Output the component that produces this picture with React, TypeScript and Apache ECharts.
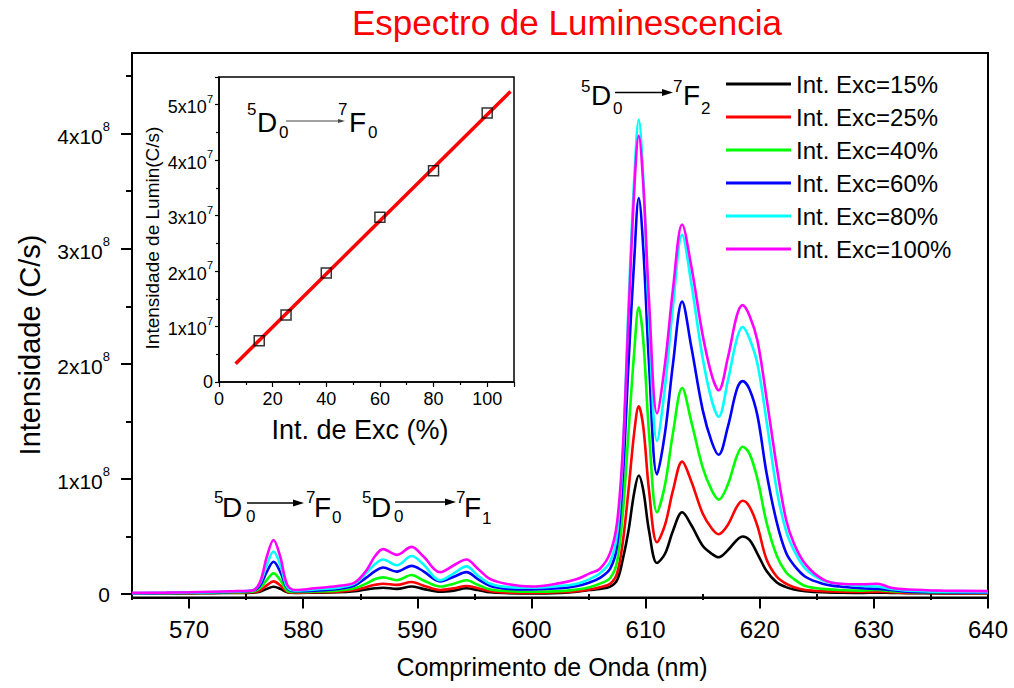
import React, { useEffect, useRef } from "react";
import * as echarts from "echarts";

// Wavelength grid (nm)
const wavelength = [
  565, 568, 570, 572, 574,
  575.5, 576.2, 576.8, 577.4, 578.0,
  578.6, 579.3, 581, 583, 584.5,
  585.5, 586.3, 587.0, 588.2, 589.5,
  590.5, 592.0, 593.2, 594.3, 595.3,
  596.4, 598, 600, 602.5, 604,
  605.1, 606.0, 606.9, 607.5, 608.0,
  608.5, 609.0, 609.4, 609.8, 610.3,
  611.0, 611.7, 612.4, 613.2, 614.0,
  615.0, 615.8, 616.4, 617.2, 618.0,
  618.5, 619.1, 619.8, 620.6, 621.5,
  622.3, 623.0, 624.0, 625.5, 627.0,
  629, 630.3, 631.5, 633, 636,
  640,
];

// Intensities in units of 1e8 C/s
const exc15 = [
  0.005, 0.005, 0.006, 0.008, 0.01,
  0.012, 0.02, 0.045, 0.064, 0.045,
  0.015, 0.01, 0.012, 0.015, 0.025,
  0.04, 0.05, 0.055, 0.045, 0.065,
  0.045, 0.02, 0.03, 0.05, 0.035,
  0.015, 0.008, 0.005, 0.01, 0.02,
  0.035, 0.045, 0.065, 0.12, 0.3,
  0.55, 0.88, 1.03, 0.9, 0.55,
  0.27, 0.35, 0.55, 0.71, 0.6,
  0.42, 0.35, 0.32, 0.38, 0.47,
  0.5, 0.47, 0.35, 0.2, 0.1,
  0.06, 0.04, 0.025, 0.015, 0.012,
  0.01, 0.012, 0.01, 0.008, 0.006,
  0.005,
];
const exc25 = [
  0.005, 0.006, 0.008, 0.01, 0.012,
  0.015, 0.03, 0.075, 0.11, 0.075,
  0.02, 0.012, 0.015, 0.02, 0.035,
  0.06, 0.08, 0.09, 0.08, 0.105,
  0.075, 0.035, 0.05, 0.07, 0.05,
  0.025, 0.012, 0.01, 0.015, 0.025,
  0.04, 0.06, 0.09, 0.18, 0.45,
  0.9, 1.4, 1.63, 1.45, 0.9,
  0.45, 0.6, 0.9, 1.15, 0.98,
  0.7, 0.57, 0.52, 0.6, 0.76,
  0.81, 0.76, 0.59, 0.3, 0.15,
  0.09, 0.06, 0.035, 0.025, 0.02,
  0.018, 0.02, 0.015, 0.01, 0.008,
  0.006,
];
const exc40 = [
  0.006, 0.007, 0.009, 0.012, 0.015,
  0.02, 0.05, 0.12, 0.18, 0.12,
  0.03, 0.018, 0.022, 0.03, 0.05,
  0.09, 0.13, 0.145, 0.12, 0.165,
  0.12, 0.065, 0.09, 0.12, 0.08,
  0.04, 0.025, 0.02, 0.025, 0.04,
  0.06, 0.09, 0.14, 0.28, 0.7,
  1.4, 2.1, 2.49, 2.2, 1.4,
  0.71, 0.95, 1.4, 1.79, 1.5,
  1.1, 0.9, 0.82, 0.95, 1.2,
  1.28, 1.22, 1.0, 0.62, 0.33,
  0.19, 0.13, 0.07, 0.045, 0.035,
  0.03, 0.035, 0.025, 0.018, 0.012,
  0.01,
];
const exc60 = [
  0.007, 0.009, 0.012, 0.015, 0.02,
  0.028, 0.07, 0.19, 0.28, 0.19,
  0.05, 0.025, 0.03, 0.045, 0.075,
  0.14, 0.2, 0.23, 0.195, 0.245,
  0.2, 0.11, 0.15, 0.19, 0.13,
  0.07, 0.045, 0.04, 0.05, 0.07,
  0.1, 0.14, 0.22, 0.42, 1.0,
  2.0, 2.9, 3.44, 3.0, 2.0,
  1.04, 1.4, 2.0, 2.54, 2.15,
  1.6, 1.32, 1.21, 1.45, 1.78,
  1.85, 1.78, 1.55, 1.05, 0.62,
  0.36, 0.25, 0.15, 0.09, 0.065,
  0.05, 0.045, 0.035, 0.02, 0.015,
  0.012,
];
const exc80 = [
  0.008, 0.01, 0.013, 0.017, 0.022,
  0.03, 0.09, 0.25, 0.37, 0.25,
  0.06, 0.03, 0.04, 0.055, 0.09,
  0.18, 0.26, 0.3, 0.25, 0.33,
  0.26, 0.12, 0.18, 0.24, 0.16,
  0.09, 0.06, 0.055, 0.07, 0.09,
  0.13, 0.18, 0.28, 0.52, 1.2,
  2.5, 3.6, 4.12, 3.6, 2.4,
  1.33, 1.8, 2.5, 3.12, 2.7,
  2.05, 1.68, 1.54, 1.85, 2.22,
  2.32, 2.22, 2.0, 1.5, 0.9,
  0.55, 0.38, 0.22, 0.12, 0.09,
  0.07, 0.065, 0.045, 0.03, 0.02,
  0.015,
];
const exc100 = [
  0.01, 0.012, 0.015, 0.02, 0.025,
  0.03, 0.1, 0.32, 0.47, 0.32,
  0.08, 0.035, 0.05, 0.07, 0.1,
  0.2, 0.33, 0.39, 0.34, 0.41,
  0.33, 0.19, 0.25, 0.3, 0.22,
  0.13, 0.085, 0.065, 0.095, 0.13,
  0.18, 0.22, 0.36, 0.62, 1.25,
  2.4, 3.5, 3.98, 3.55, 2.55,
  1.57, 2.0, 2.65, 3.21, 2.85,
  2.25, 1.9, 1.77, 2.05, 2.42,
  2.51, 2.42, 2.2, 1.7, 1.1,
  0.65, 0.44, 0.26, 0.13, 0.09,
  0.085, 0.09, 0.055, 0.04, 0.03,
  0.025,
];

const seriesNames = [
  "Int. Exc=15%",
  "Int. Exc=25%",
  "Int. Exc=40%",
  "Int. Exc=60%",
  "Int. Exc=80%",
  "Int. Exc=100%",
];
const seriesValues = [exc15, exc25, exc40, exc60, exc80, exc100];
const seriesColors = ["#000000", "#ff0000", "#00ff00", "#0000ff", "#00ffff", "#ff00ff"];

const mainXTicks = [570, 580, 590, 600, 610, 620, 630, 640];
const mainXMinorTicks = [565, 575, 585, 595, 605, 615, 625, 635];
const mainYTicks = [0, 1, 2, 3, 4];
const mainYMinorTicks = [0.5, 1.5, 2.5, 3.5, 4.5];

// Inset: 5D0 -> 7F0 integrated intensity (units of 1e7 C/s) vs excitation (%)
const insetExc = [15, 25, 40, 60, 80, 100];
const insetLumin = [0.745, 1.21, 1.965, 2.97, 3.81, 4.85];
const fitExc = [6.2, 108.7];
const fitLumin = [0.33, 5.24];

const FONT = "'Liberation Sans', Arial, Helvetica, sans-serif";
const NARROW = "'Liberation Sans Narrow', 'Arial Narrow', 'Liberation Sans', sans-serif";

function txt(t: string, x: number, y: number, s: number, extra: any = {}) {
  return {
    type: "text",
    x,
    y,
    silent: true,
    style: {
      text: t,
      fontSize: s,
      fontFamily: FONT,
      fill: "#000",
      align: "left",
      verticalAlign: "middle",
      ...extra,
    },
  };
}

function arrow(x1: number, x2: number, y: number, color: string, w: number, hl: number, hw: number) {
  return [
    { type: "line", silent: true, shape: { x1, y1: y, x2: x2 - hl + 1, y2: y }, style: { stroke: color, lineWidth: w } },
    {
      type: "polygon",
      silent: true,
      shape: { points: [[x2, y], [x2 - hl, y - hw / 2], [x2 - hl, y + hw / 2]] },
      style: { fill: color },
    },
  ];
}

function transition(p: {
  x5: number; xD: number; xs1: number; ax1: number; ax2: number; ay: number;
  x7: number; xF: number; xs2: number; ySup: number; yMain: number; ySub1: number; ySub2: number;
  sub2: string; arrowColor: string; arrowW: number; hl: number; hw: number;
}) {
  return [
    txt("5", p.x5, p.ySup, 17),
    txt("D", p.xD, p.yMain, 28),
    txt("0", p.xs1, p.ySub1, 17),
    ...arrow(p.ax1, p.ax2, p.ay, p.arrowColor, p.arrowW, p.hl, p.hw),
    txt("7", p.x7, p.ySup, 17),
    txt("F", p.xF, p.yMain, 28),
    txt(p.sub2, p.xs2, p.ySub2, 17),
  ];
}

export default function App() {
  const ref = useRef<HTMLDivElement>(null);

  useEffect(() => {
    if (!ref.current) return;
    const chart = echarts.init(ref.current, undefined, { renderer: "svg" });

    const mainYLabel = (v: number) => (v === 0 ? "{z|0}" : `{b|${v}x10}{s|8}`);
    const insetYLabel = (v: number) =>
      v === 0 ? "{z|0}" : Number.isInteger(v) ? `{b|${v}x10}{s|7}` : "";

    const tickStyle = { color: "#000", width: 2 };

    const option: any = {
      animation: false,
      backgroundColor: "#ffffff",
      grid: [
        { left: 132, top: 53, width: 856, height: 544.5, show: true, borderColor: "#000", borderWidth: 2, backgroundColor: "transparent" },
        { left: 219, top: 77, width: 295, height: 305, show: true, borderColor: "#000", borderWidth: 1.5, backgroundColor: "#ffffff" },
      ],
      xAxis: [
        {
          gridIndex: 0, type: "value", min: 565, max: 640, position: "bottom",
          axisLine: { show: true, onZero: false, lineStyle: tickStyle },
          axisTick: { show: true, length: 11, lineStyle: tickStyle, customValues: mainXTicks },
          axisLabel: { customValues: mainXTicks, fontSize: 24, fontFamily: NARROW, color: "#000", margin: 20 },
          splitLine: { show: false },
        },
        {
          gridIndex: 0, type: "value", min: 565, max: 640, position: "bottom",
          axisLine: { show: false },
          axisTick: { show: true, length: 6, lineStyle: tickStyle, customValues: mainXMinorTicks },
          axisLabel: { show: false },
          splitLine: { show: false },
        },
        {
          gridIndex: 1, type: "value", min: 0, max: 110, interval: 20, position: "bottom",
          axisLine: { show: true, onZero: false, lineStyle: { color: "#000", width: 1.5 } },
          axisTick: { show: true, length: 5, lineStyle: { color: "#000", width: 1.2 } },
          minorTick: { show: true, splitNumber: 2, length: 3, lineStyle: { color: "#000", width: 1.2 } },
          axisLabel: {
            fontSize: 18, fontFamily: FONT, color: "#000", margin: 8,
            formatter: (v: number) => (v % 20 === 0 ? String(v) : ""),
          },
          splitLine: { show: false },
          minorSplitLine: { show: false },
        },
      ],
      yAxis: [
        {
          gridIndex: 0, type: "value", min: -0.03, max: 4.7, position: "left",
          axisLine: { show: true, onZero: false, lineStyle: tickStyle },
          axisTick: { show: true, length: 11, lineStyle: tickStyle, customValues: mainYTicks },
          axisLabel: {
            customValues: mainYTicks, margin: 22, formatter: mainYLabel,
            rich: {
              b: { fontSize: 21, fontFamily: FONT, color: "#000", lineHeight: 27, verticalAlign: "bottom" },
              s: { fontSize: 13, fontFamily: FONT, color: "#000", lineHeight: 13, verticalAlign: "top" },
              z: { fontSize: 21, fontFamily: FONT, color: "#000", lineHeight: 21 },
            },
          },
          splitLine: { show: false },
        },
        {
          gridIndex: 0, type: "value", min: -0.03, max: 4.7, position: "left",
          axisLine: { show: false },
          axisTick: { show: true, length: 6, lineStyle: tickStyle, customValues: mainYMinorTicks },
          axisLabel: { show: false },
          splitLine: { show: false },
        },
        {
          gridIndex: 1, type: "value", min: 0, max: 5.5, interval: 1, position: "left",
          axisLine: { show: true, onZero: false, lineStyle: { color: "#000", width: 1.5 } },
          axisTick: { show: true, length: 4, lineStyle: { color: "#000", width: 1.2 } },
          minorTick: { show: true, splitNumber: 2, length: 3, lineStyle: { color: "#000", width: 1.2 } },
          axisLabel: {
            margin: 6, formatter: insetYLabel,
            rich: {
              b: { fontSize: 18, fontFamily: FONT, color: "#000", lineHeight: 23, verticalAlign: "bottom" },
              s: { fontSize: 11, fontFamily: FONT, color: "#000", lineHeight: 11, verticalAlign: "top" },
              z: { fontSize: 18, fontFamily: FONT, color: "#000", lineHeight: 18 },
            },
          },
          splitLine: { show: false },
          minorSplitLine: { show: false },
        },
      ],
      legend: {
        orient: "vertical",
        left: 726,
        top: 72,
        padding: 0,
        itemWidth: 65,
        itemHeight: 3,
        itemGap: 9,
        icon: "rect",
        data: seriesNames,
        selectedMode: false,
        textStyle: { fontSize: 24, fontFamily: FONT, color: "#000", lineHeight: 24 },
      },
      series: [
        ...seriesNames.map((name, i) => ({
          name,
          type: "line",
          xAxisIndex: 0,
          yAxisIndex: 0,
          data: wavelength.map((w, j) => [w, seriesValues[i][j]]),
          smooth: 0.35,
          symbol: "none",
          lineStyle: { color: seriesColors[i], width: 2.6 },
          itemStyle: { color: seriesColors[i] },
          z: 2 + i,
          silent: true,
        })),
        {
          name: "fit",
          type: "line",
          xAxisIndex: 2,
          yAxisIndex: 2,
          data: fitExc.map((x, i) => [x, fitLumin[i]]),
          symbol: "none",
          lineStyle: { color: "#ff0000", width: 3.5 },
          z: 10,
          silent: true,
        },
        {
          name: "points",
          type: "scatter",
          xAxisIndex: 2,
          yAxisIndex: 2,
          data: insetExc.map((x, i) => [x, insetLumin[i]]),
          symbol: "rect",
          symbolSize: 10,
          itemStyle: { color: "rgba(0,0,0,0)", borderColor: "#000", borderWidth: 1.5 },
          z: 11,
          silent: true,
        },
      ],
      graphic: [
        txt("Espectro de Luminescencia", 567, 22, 35, { fill: "#ff0000", align: "center" }),
        { ...txt("Intensidade (C/s)", 30, 345, 29, { align: "center" }), rotation: Math.PI / 2 },
        txt("Comprimento de Onda (nm)", 552, 667, 25, { align: "center" }),
        { ...txt("Intensidade de Lumin(C/s)", 152, 238, 19, { align: "center" }), rotation: Math.PI / 2 },
        txt("Int. de Exc (%)", 360, 430, 27, { align: "center" }),
        ...transition({
          x5: 581, xD: 591, xs1: 613, ax1: 615, ax2: 673, ay: 92.5, x7: 673, xF: 683, xs2: 701,
          ySup: 86, yMain: 95, ySub1: 108, ySub2: 108, sub2: "2", arrowColor: "#000", arrowW: 1.3, hl: 11, hw: 7,
        }),
        ...transition({
          x5: 214, xD: 222, xs1: 246, ax1: 247, ax2: 304, ay: 503, x7: 306, xF: 314, xs2: 332,
          ySup: 497.5, yMain: 507, ySub1: 516, ySub2: 517.5, sub2: "0", arrowColor: "#000", arrowW: 1.3, hl: 11, hw: 7,
        }),
        ...transition({
          x5: 362, xD: 371, xs1: 394, ax1: 395, ax2: 456, ay: 502, x7: 456, xF: 464, xs2: 482,
          ySup: 497.5, yMain: 507, ySub1: 516, ySub2: 518, sub2: "1", arrowColor: "#000", arrowW: 1.3, hl: 11, hw: 7,
        }),
        ...transition({
          x5: 247, xD: 257, xs1: 279, ax1: 286, ax2: 345, ay: 121, x7: 338, xF: 349, xs2: 368,
          ySup: 109, yMain: 122, ySub1: 132.5, ySub2: 132.5, sub2: "0", arrowColor: "#444", arrowW: 1, hl: 7, hw: 4,
        }),
      ],
    };

    chart.setOption(option);
    return () => chart.dispose();
  }, []);

  return (
    <div
      ref={ref}
      style={{ position: "fixed", left: 0, top: 0, width: 1014, height: 688, background: "#fff" }}
    />
  );
}
